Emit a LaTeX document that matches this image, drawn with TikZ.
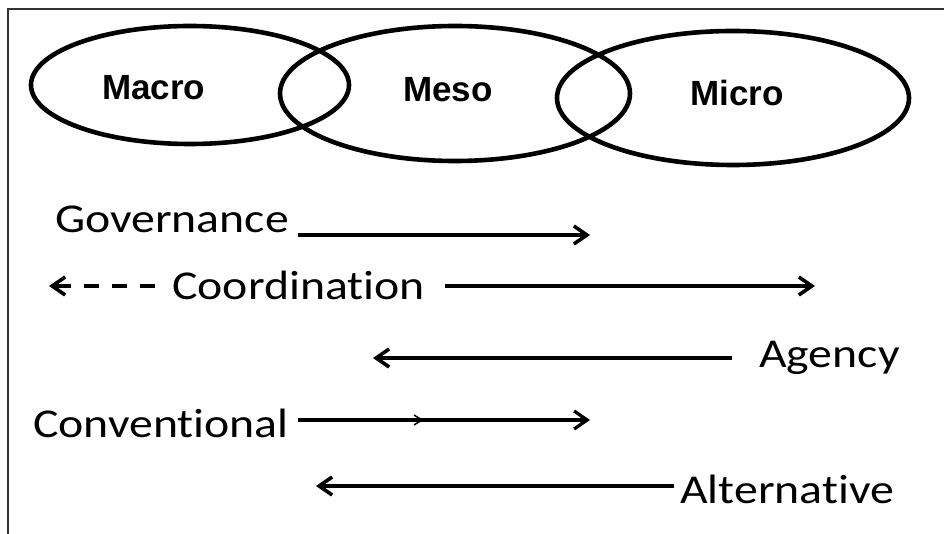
\documentclass[tikz,border=0pt]{standalone}
\usepackage{fontspec}
\usepackage{graphicx}
\setmainfont{Carlito}[Ligatures={NoCommon}]
\newfontfamily\arialfont{Liberation Sans}
\usetikzlibrary{arrows.meta,shapes.geometric}
\begin{document}
\begin{tikzpicture}[x=1pt,y=-1pt,
  oval/.style={draw, ellipse, line width=4.6pt, inner sep=0pt},
  lvl/.style={font=\arialfont\bfseries\fontsize{35}{40}\selectfont, inner sep=0pt, anchor=base west},
  lbl/.style={font=\fontsize{41}{48}\selectfont, inner sep=0pt, anchor=base west},
  arr/.style={line width=3.6pt, -{Straight Barb[length=13pt,width=18pt]}},
  frame/.style={line width=2pt, black!80}
]
\useasboundingbox (0,0) rectangle (944,534);
\fill[white] (0,0) rectangle (944,534);
\draw[frame] (8,9) rectangle (970,570);

% ellipses
\node[oval, minimum width=318pt, minimum height=118pt] (macroE) at (190,85) {};
\node[oval, minimum width=350pt, minimum height=135pt] (mesoE) at (455,93.5) {};
\node[oval, minimum width=352pt, minimum height=134pt] (microE) at (733,98) {};

\node[lvl] (macro) at (102,100) {Macro};
\node[lvl] (meso) at (403,102) {Meso};
\node[lvl] (micro) at (690,106) {Micro};

% labels
\newcommand{\wide}[1]{\scalebox{1.165}[1]{#1}}
\node[lbl] (gov) at (55,233) {\wide{Governance}};
\node[lbl] (coord) at (172,300) {\wide{Coordination}};
\node[lbl] (agency) at (759,367) {\wide{Agency}};
\node[lbl] (conv) at (33,437) {\wide{Conventional}};
\node[lbl] (alt) at (680,503) {\wide{Alternative}};

% connector end points
\coordinate (govA) at (298,235);
\coordinate (govB) at (590,235);
\coordinate (coordL) at (155,286);
\coordinate (coordLtip) at (49,286);
\coordinate (coordR) at (445,286);
\coordinate (coordRtip) at (815,286);
\coordinate (agA) at (732,358);
\coordinate (agB) at (373,358);
\coordinate (convA) at (298,420);
\coordinate (convB) at (590,420);
\coordinate (convM) at (422,420);
\coordinate (altA) at (674,486);
\coordinate (altB) at (316,486);

\draw[arr] (govA) -- (govB);
\draw[arr, dash pattern=on 15pt off 13pt] (coordL) -- (coordLtip);
\draw[arr] (coordR) -- (coordRtip);
\draw[arr] (agA) -- (agB);
\draw[arr, line width=3.3pt] (convA) -- (convB);
\draw[line width=1.5pt] (convM) ++(-8,-5) -- (convM) -- ++(-8,5);
\draw[arr] (altA) -- (altB);
\end{tikzpicture}
\end{document}
